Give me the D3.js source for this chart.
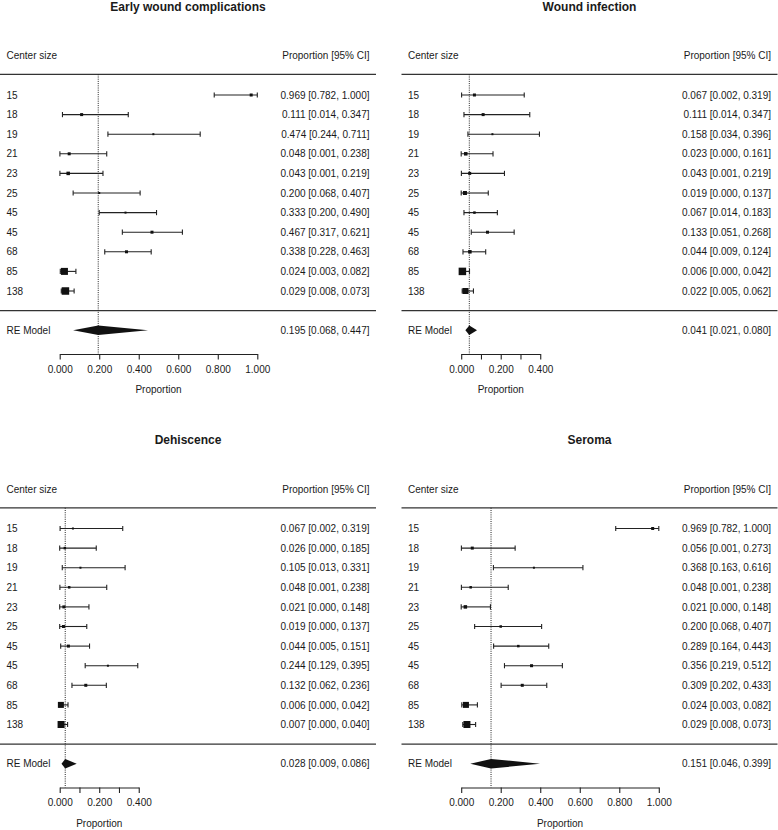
<!DOCTYPE html>
<html>
<head>
<meta charset="utf-8">
<script src="https://cdn.jsdelivr.net/npm/d3@7"></script>
<style>
  html, body { margin: 0; padding: 0; background: #fff; }
  svg { display: block; }
  text { font-family: "Liberation Sans", Arial, Helvetica, sans-serif; fill: #1a1a1a; }
</style>
</head>
<body>
<svg id="chart" width="778" height="830"></svg>
<script>
// ---------- data ----------
const centerSizes = ["15", "18", "19", "21", "23", "25", "45", "45", "68", "85", "138"];

const panelTitles = ["Early wound complications", "Wound infection", "Dehiscence", "Seroma"];

const earlyEst = [0.969, 0.111, 0.474, 0.048, 0.043, 0.200, 0.333, 0.467, 0.338, 0.024, 0.029];
const earlyLo  = [0.782, 0.014, 0.244, 0.001, 0.001, 0.068, 0.200, 0.317, 0.228, 0.003, 0.008];
const earlyHi  = [1.000, 0.347, 0.711, 0.238, 0.219, 0.407, 0.490, 0.621, 0.463, 0.082, 0.073];
const earlyWeight = [3, 3, 2, 3, 3.5, 2, 2, 3, 3, 7, 7.5];
const earlyPooled = [0.195, 0.068, 0.447];

const infectionEst = [0.067, 0.111, 0.158, 0.023, 0.043, 0.019, 0.067, 0.133, 0.044, 0.006, 0.022];
const infectionLo  = [0.002, 0.014, 0.034, 0.000, 0.001, 0.000, 0.014, 0.051, 0.009, 0.000, 0.005];
const infectionHi  = [0.319, 0.347, 0.396, 0.161, 0.219, 0.137, 0.183, 0.268, 0.124, 0.042, 0.062];
const infectionWeight = [3, 3, 2, 3.5, 3, 4, 2.5, 3, 3.5, 7.5, 6];
const infectionPooled = [0.041, 0.021, 0.080];

const dehiscenceEst = [0.067, 0.026, 0.105, 0.048, 0.021, 0.019, 0.044, 0.244, 0.132, 0.006, 0.007];
const dehiscenceLo  = [0.002, 0.000, 0.013, 0.001, 0.000, 0.000, 0.005, 0.129, 0.062, 0.000, 0.000];
const dehiscenceHi  = [0.319, 0.185, 0.331, 0.238, 0.148, 0.137, 0.151, 0.395, 0.236, 0.042, 0.040];
const dehiscenceWeight = [2, 2.5, 2, 2.5, 3, 3, 3, 2, 3, 6, 7];
const dehiscencePooled = [0.028, 0.009, 0.086];

const seromaEst = [0.969, 0.056, 0.368, 0.048, 0.021, 0.200, 0.289, 0.356, 0.309, 0.024, 0.029];
const seromaLo  = [0.782, 0.001, 0.163, 0.001, 0.000, 0.068, 0.164, 0.219, 0.202, 0.003, 0.008];
const seromaHi  = [1.000, 0.273, 0.616, 0.238, 0.148, 0.407, 0.443, 0.512, 0.433, 0.082, 0.073];
const seromaWeight = [3, 3, 2, 2.5, 3.5, 2.5, 2.5, 3, 3, 6, 7];
const seromaPooled = [0.151, 0.046, 0.399];

const axisMax = [1.0, 0.4, 0.4, 1.0];
const ticksWide = [0, 0.2, 0.4, 0.6, 0.8, 1.0];
const ticksNarrow = [0, 0.1, 0.2, 0.3, 0.4];
const tickLabelsWide = ["0.000", "0.200", "0.400", "0.600", "0.800", "1.000"];
const tickLabelsNarrow = ["0.000", "", "0.200", "", "0.400"];

const headerLeft = "Center size";
const headerRight = "Proportion [95% CI]";
const pooledLabel = "RE Model";
const axisTitle = "Proportion";

// ---------- build panels ----------
const panels = [
  { title: panelTitles[0], est: earlyEst, lo: earlyLo, hi: earlyHi, w: earlyWeight, pooled: earlyPooled, max: axisMax[0], ticks: ticksWide, labels: tickLabelsWide },
  { title: panelTitles[1], est: infectionEst, lo: infectionLo, hi: infectionHi, w: infectionWeight, pooled: infectionPooled, max: axisMax[1], ticks: ticksNarrow, labels: tickLabelsNarrow },
  { title: panelTitles[2], est: dehiscenceEst, lo: dehiscenceLo, hi: dehiscenceHi, w: dehiscenceWeight, pooled: dehiscencePooled, max: axisMax[2], ticks: ticksNarrow, labels: tickLabelsNarrow },
  { title: panelTitles[3], est: seromaEst, lo: seromaLo, hi: seromaHi, w: seromaWeight, pooled: seromaPooled, max: axisMax[3], ticks: ticksWide, labels: tickLabelsWide }
];

// ---------- layout ----------
const svg = d3.select("#chart");
const panelOrigins = [[0, 0], [401.5, 0], [0, 433.5], [401.5, 433.5]];
const panelWidth = 376;
const x0 = 59.7, unitPx = 197.6;
const k = centerSizes.length;
// metafor-style row coordinates: studies at rows k..1, pooled at -1
const yRow = d3.scaleLinear().domain([k, 1]).range([95, 291]);
const headerLineY = 74.3;
const axisY = 354;
const fmt = d3.format(".3f");
const sizeScale = d3.scaleLinear().domain([0, 10]).range([0, 10]);
const ink = "#1a1a1a";

panels.forEach((p, pi) => {
  const [ox, oy] = panelOrigins[pi];
  const g = svg.append("g").attr("transform", `translate(${ox},${oy})`);
  const x = d3.scaleLinear().domain([0, p.max]).range([x0, x0 + unitPx * p.max]);

  // title
  g.append("text").attr("x", panelWidth / 2).attr("y", 10.5)
    .attr("text-anchor", "middle").style("font-size", "12px").style("font-weight", "bold")
    .text(p.title);

  // headers
  g.append("text").attr("x", 6.5).attr("y", yRow(k + 2) + 3.5).style("font-size", "10px").text(headerLeft);
  g.append("text").attr("x", 369.5).attr("y", yRow(k + 2) + 3.5).attr("text-anchor", "end").style("font-size", "10px").text(headerRight);

  // horizontal separators
  g.append("line").attr("x1", 0).attr("x2", panelWidth).attr("y1", headerLineY).attr("y2", headerLineY)
    .attr("stroke", "#333").attr("stroke-width", 1.2);
  g.append("line").attr("x1", 0).attr("x2", panelWidth).attr("y1", yRow(0)).attr("y2", yRow(0))
    .attr("stroke", "#333").attr("stroke-width", 1.2);

  // reference (pooled) dotted line
  g.append("line").attr("x1", x(p.pooled[0])).attr("x2", x(p.pooled[0]))
    .attr("y1", headerLineY).attr("y2", axisY)
    .attr("stroke", "#222").attr("stroke-width", 1).attr("stroke-dasharray", "1,1.2");

  const rows = centerSizes.map((c, i) => ({ label: c, est: p.est[i], lo: p.lo[i], hi: p.hi[i], w: p.w[i], row: k - i }));

  const rg = g.selectAll("g.study").data(rows).enter().append("g").attr("class", "study");
  rg.append("line").attr("x1", d => x(d.lo)).attr("x2", d => x(d.hi))
    .attr("y1", d => yRow(d.row)).attr("y2", d => yRow(d.row)).attr("stroke", "#222").attr("stroke-width", 1.1);
  rg.append("line").attr("x1", d => x(d.lo)).attr("x2", d => x(d.lo))
    .attr("y1", d => yRow(d.row) - 2.6).attr("y2", d => yRow(d.row) + 2.6).attr("stroke", "#222").attr("stroke-width", 1.1);
  rg.append("line").attr("x1", d => x(d.hi)).attr("x2", d => x(d.hi))
    .attr("y1", d => yRow(d.row) - 2.6).attr("y2", d => yRow(d.row) + 2.6).attr("stroke", "#222").attr("stroke-width", 1.1);
  rg.append("rect")
    .attr("x", d => x(d.est) - sizeScale(d.w) / 2).attr("y", d => yRow(d.row) - sizeScale(d.w) / 2)
    .attr("width", d => sizeScale(d.w)).attr("height", d => sizeScale(d.w)).attr("fill", "#111");
  rg.append("text").attr("x", 6.5).attr("y", d => yRow(d.row) + 3.6).style("font-size", "10px").text(d => d.label);
  rg.append("text").attr("x", 369.5).attr("y", d => yRow(d.row) + 3.6).attr("text-anchor", "end").style("font-size", "10px")
    .text(d => `${fmt(d.est)} [${fmt(d.lo)}, ${fmt(d.hi)}]`);

  // pooled estimate diamond
  const yp = yRow(-1), h = 4.8;
  g.append("polygon")
    .attr("points", [[x(p.pooled[1]), yp], [x(p.pooled[0]), yp - h], [x(p.pooled[2]), yp], [x(p.pooled[0]), yp + h]].map(q => q.join(",")).join(" "))
    .attr("fill", "#111");
  g.append("text").attr("x", 6.5).attr("y", yp + 3.6).style("font-size", "10px").text(pooledLabel);
  g.append("text").attr("x", 369.5).attr("y", yp + 3.6).attr("text-anchor", "end").style("font-size", "10px")
    .text(`${fmt(p.pooled[0])} [${fmt(p.pooled[1])}, ${fmt(p.pooled[2])}]`);

  // axis
  const ax = g.append("g").attr("transform", `translate(0,${axisY})`)
    .call(d3.axisBottom(x).tickValues(p.ticks).tickSize(5.5).tickSizeOuter(0).tickPadding(6)
      .tickFormat((d, i) => p.labels[i]));
  ax.select(".domain").attr("stroke", "#222").attr("stroke-width", 1.1);
  ax.selectAll(".tick line").attr("stroke", "#222").attr("stroke-width", 1.1);
  ax.selectAll(".tick text").style("font-size", "10px").style("font-family", "'Liberation Sans', Arial, sans-serif").attr("fill", ink);

  g.append("text").attr("x", (x.range()[0] + x.range()[1]) / 2).attr("y", 393)
    .attr("text-anchor", "middle").style("font-size", "10px").text(axisTitle);
});
</script>
</body>
</html>
